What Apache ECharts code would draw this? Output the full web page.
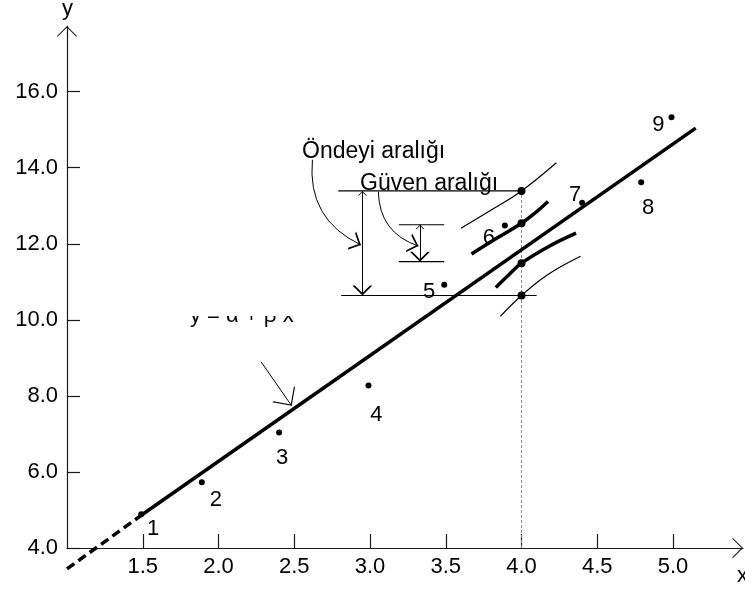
<!DOCTYPE html>
<html>
<head>
<meta charset="utf-8">
<script src="https://cdn.jsdelivr.net/npm/echarts@6/dist/echarts.min.js"></script>
<style>
html,body{margin:0;padding:0;background:#ffffff;}
#chart{width:745px;height:589px;}
</style>
</head>
<body>
<div id="chart"></div>
<script>
// ---------------- data ----------------
const pointNames = ['1', '2', '3', '4', '5', '6', '7', '8', '9'];
const pointX = [1.49, 1.89, 2.40, 2.99, 3.49, 3.89, 4.40, 4.79, 4.99];
const pointY = [4.89, 5.73, 7.04, 8.27, 10.92, 12.48, 13.08, 13.62, 15.33];

// fitted line (solid part) and its dashed extension
const fitX = [1.49, 5.15];
const fitY = [4.86, 15.04];
const fitExtX = [1.00, 1.49];
const fitExtY = [3.45, 4.86];

// interval end points at x0
const x0 = 4.0;
const bandY = [13.39, 12.54, 11.49, 10.64]; // pred. upper, conf. upper, conf. lower, pred. lower

// confidence band (thick curves)
const confUpperX = [3.67, 3.83, 4.00, 4.09, 4.175];
const confUpperY = [11.73, 12.13, 12.54, 12.81, 13.11];
const confLowerX = [3.83, 3.92, 4.00, 4.18, 4.36];
const confLowerY = [10.85, 11.20, 11.49, 11.93, 12.28];

// prediction band (thin curves)
const predUpperX = [3.60, 3.80, 4.00, 4.23];
const predUpperY = [12.41, 12.89, 13.39, 14.13];
const predLowerX = [3.86, 4.00, 4.17, 4.39];
const predLowerY = [10.09, 10.64, 11.18, 11.67];

// guide lines for the annotation
const predGuideTopX = [2.79, 4.00];
const predGuideBottomX = [2.81, 4.10];
const confGuideX = [3.19, 3.49];
const confGuideY = [12.50, 11.53];
const predArrowX = 2.95;
const confArrowX = 3.33;

// curved / straight pointer arrows [from, to]
const predPointer = [[2.62, 14.21], [2.94, 11.97]];
const confPointer = [[3.055, 13.37], [3.32, 11.94]];
const eqPointer = [[2.28, 8.90], [2.483, 7.74]];

// tick labels
const xTicks = [1.5, 2.0, 2.5, 3.0, 3.5, 4.0, 4.5, 5.0];
const yTicks = [4, 6, 8, 10, 12, 14, 16];

// texts
const predText = 'Öndeyi aralığı';
const confText = 'Güven aralığı';
const eqText = 'y = α + β x';

// ---------------- styling ----------------
const FONT = '"Liberation Sans", Arial, Helvetica, sans-serif';
const INK = '#000000';
const labelOffsets = [[12, 15], [14, 18], [3, 26], [8, 29], [-15, 7], [-16, 12], [-7, -8], [7, 26], [-13, 8]];

function pairs(xs, ys) { return xs.map((x, i) => [x, ys[i]]); }
// open "V" arrow head pointing up, tip at the centre of its box
function chevron(t) {
  return 'path://M50 0L50.01 0.01L50 0.02Z M50 50L100 100L' + (100 - t) + ' 100L50 ' + (50 + t) + 'L' + t + ' 100L0 100Z';
}
function lineSeries(data, width, extra) {
  return Object.assign({
    type: 'line', data: data, showSymbol: false, symbol: 'none', silent: true,
    lineStyle: {color: INK, width: width}, z: 3
  }, extra || {});
}

const chart = echarts.init(document.getElementById('chart'), null, {renderer: 'canvas'});

const option = {
  animation: false,
  backgroundColor: '#ffffff',
  grid: {left: 67, right: 2, top: 26, bottom: 41, containLabel: false, outerBoundsMode: 'none'},
  xAxis: {
    type: 'value', min: 1.0, max: 5.462, interval: 0.5,
    axisLine: {show: true, onZero: false, lineStyle: {color: '#1a1a1a', width: 1.2},
      symbol: ['none', chevron(7)], symbolSize: [21, 26]},
    axisTick: {show: true, inside: true, length: 14, customValues: xTicks, lineStyle: {color: '#1a1a1a', width: 1.2}},
    axisLabel: {customValues: xTicks, formatter: v => Number(v).toFixed(1), margin: 8,
      fontSize: 22, color: INK, fontFamily: FONT},
    splitLine: {show: false}
  },
  yAxis: {
    type: 'value', min: 4, max: 17.727, interval: 2,
    axisLine: {show: true, onZero: false, lineStyle: {color: '#1a1a1a', width: 1.2},
      symbol: ['none', chevron(7)], symbolSize: [21, 26]},
    axisTick: {show: true, inside: true, length: 13, customValues: yTicks, lineStyle: {color: '#1a1a1a', width: 1.2}},
    axisLabel: {customValues: yTicks, formatter: v => Number(v).toFixed(1), margin: 9,
      fontSize: 22, color: INK, fontFamily: FONT},
    splitLine: {show: false}
  },
  graphic: [
    {type: 'text', left: 302, top: 152 - 12, z: 100,
      style: {text: predText, font: '23px ' + FONT, fill: INK}},
    {type: 'text', left: 360, top: 184 - 12, z: 100,
      style: {text: confText, font: '23px ' + FONT, fill: INK}},
    {type: 'text', left: 190, top: 316 - 11, z: 100,
      style: {text: eqText, font: '22px ' + FONT, fill: INK}},
    {type: 'rect', left: 180, top: 290, z: 101,
      shape: {width: 130, height: 26}, style: {fill: '#ffffff'}},
    {type: 'text', left: 62, top: -2, z: 100,
      style: {text: 'y', font: '22px ' + FONT, fill: INK}},
    {type: 'text', left: 737, top: 565, z: 100,
      style: {text: 'x', font: '22px ' + FONT, fill: INK}}
  ],
  series: [
    lineSeries(pairs(fitExtX, fitExtY), 3.5, {clip: false, lineStyle: {color: INK, width: 3.5, type: [9, 5]}}),
    lineSeries(pairs(fitX, fitY), 3.5),
    lineSeries(pairs(confUpperX, confUpperY), 3.5, {smooth: 0.4}),
    lineSeries(pairs(confLowerX, confLowerY), 3.5, {smooth: 0.4}),
    lineSeries(pairs(predUpperX, predUpperY), 1.2, {smooth: 0.4}),
    lineSeries(pairs(predLowerX, predLowerY), 1.2, {smooth: 0.4}),
    lineSeries(pairs(predGuideTopX, [bandY[0], bandY[0]]), 1.2),
    lineSeries(pairs(predGuideBottomX, [bandY[3], bandY[3]]), 1.2),
    lineSeries(pairs(confGuideX, [confGuideY[0], confGuideY[0]]), 1.2),
    lineSeries(pairs(confGuideX, [confGuideY[1], confGuideY[1]]), 1.2),
    lineSeries([[x0, 4], [x0, bandY[0]]], 1, {lineStyle: {color: '#8a8a8a', width: 1, type: [3, 2]}, z: 2}),
    {
      type: 'lines', coordinateSystem: 'cartesian2d', silent: true, z: 4,
      symbol: [chevron(12), chevron(12)], symbolSize: [9, 20],
      lineStyle: {color: INK, width: 1, opacity: 1},
      data: [{coords: [[predArrowX, bandY[0]], [predArrowX, bandY[3]]]},
             {coords: [[confArrowX, confGuideY[0]], [confArrowX, confGuideY[1]]]}]
    },
    {
      type: 'lines', coordinateSystem: 'cartesian2d', silent: true, z: 4,
      symbol: ['none', chevron(12)], symbolSize: [10, 20],
      lineStyle: {color: INK, width: 1, opacity: 1, curveness: -0.35},
      data: [{coords: predPointer}, {coords: confPointer}]
    },
    {
      type: 'lines', coordinateSystem: 'cartesian2d', silent: true, z: 4,
      symbol: ['none', chevron(6)], symbolSize: [20, 28],
      lineStyle: {color: INK, width: 1, opacity: 1},
      data: [{coords: eqPointer}]
    },
    {
      type: 'scatter', silent: true, z: 5, symbol: 'circle', symbolSize: 6,
      itemStyle: {color: INK, opacity: 1},
      data: pointX.map((x, i) => ({
        value: [x, pointY[i]], name: pointNames[i],
        label: {offset: labelOffsets[i]}
      })),
      label: {show: true, position: [3, 3], align: 'center', verticalAlign: 'middle',
        formatter: p => p.name, fontSize: 22, color: INK, opacity: 1, fontFamily: FONT}
    },
    {
      type: 'scatter', silent: true, z: 5, symbol: 'circle', symbolSize: 8,
      itemStyle: {color: INK, opacity: 1},
      data: bandY.map(y => [x0, y])
    }
  ]
};
chart.setOption(option);
</script>
</body>
</html>
